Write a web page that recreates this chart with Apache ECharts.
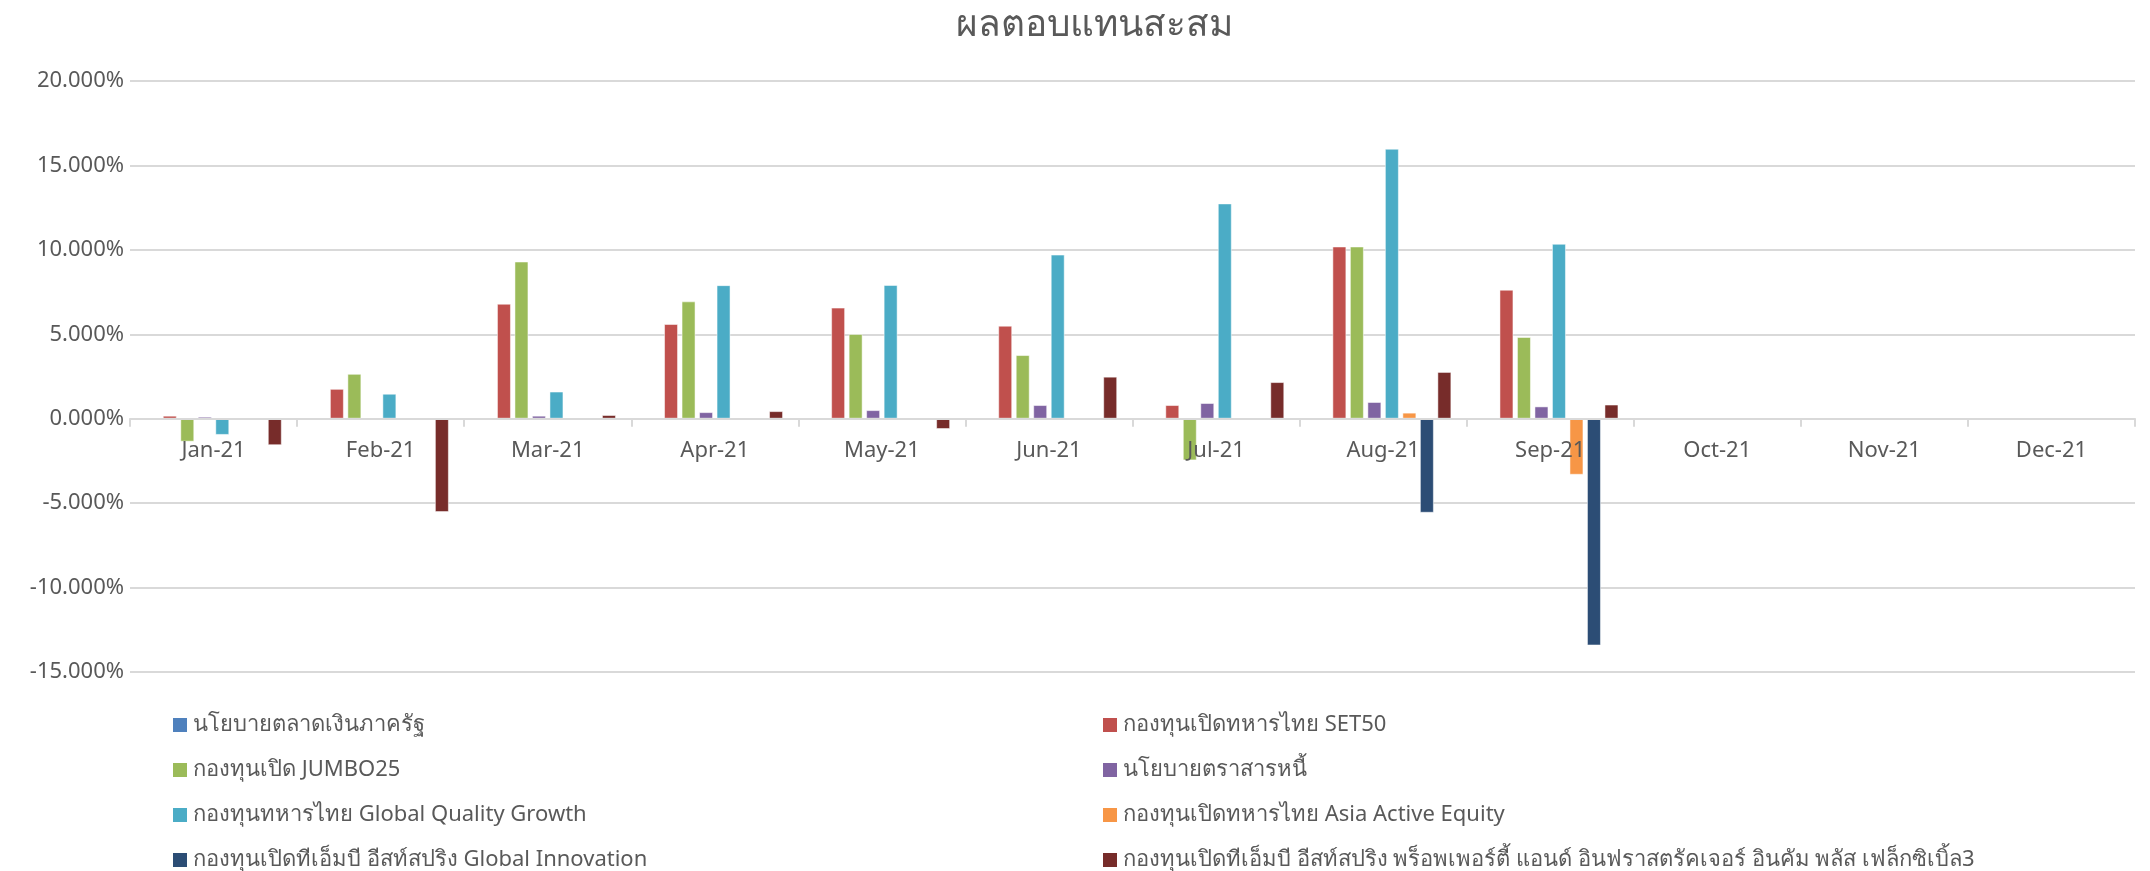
<!DOCTYPE html>
<html>
<head>
<meta charset="utf-8">
<title>ผลตอบแทนสะสม</title>
<script src="https://cdn.jsdelivr.net/npm/echarts@6/dist/echarts.min.js"></script>
<style>
  html, body { margin: 0; padding: 0; background: #fff; }
  #chart { width: 2150px; height: 871px; }
</style>
</head>
<body>
<div id="chart"></div>
<script>
// months on the x axis
const months = ['Jan-21', 'Feb-21', 'Mar-21', 'Apr-21', 'May-21', 'Jun-21',
                'Jul-21', 'Aug-21', 'Sep-21', 'Oct-21', 'Nov-21', 'Dec-21'];

// fund names, same order as the bars in each group
const fundNames = [
    'นโยบายตลาดเงินภาครัฐ',
    'กองทุนเปิดทหารไทย SET50',
    'กองทุนเปิด JUMBO25',
    'นโยบายตราสารหนี้',
    'กองทุนทหารไทย Global Quality Growth',
    'กองทุนเปิดทหารไทย Asia Active Equity',
    'กองทุนเปิดทีเอ็มบี อีสท์สปริง Global Innovation',
    'กองทุนเปิดทีเอ็มบี อีสท์สปริง พร็อพเพอร์ตี้ แอนด์ อินฟราสตรัคเจอร์ อินคัม พลัส เฟล็กซิเบิ้ล3'
];

// cumulative return in percent
const moneyMarket = [0.01, 0.01, 0.01, 0.01, 0.01, 0.01, 0.02, 0.02, 0.02, null, null, null];
const set50       = [0.18, 1.77, 6.81, 5.61, 6.58, 5.51, 0.81, 10.20, 7.64, null, null, null];
const jumbo25     = [-1.36, 2.66, 9.31, 6.95, 5.02, 3.77, -2.47, 10.20, 4.84, null, null, null];
const bondPolicy  = [0.12, -0.06, 0.18, 0.39, 0.51, 0.81, 0.93, 0.99, 0.73, null, null, null];
const globalQG    = [-0.96, 1.48, 1.61, 7.91, 7.92, 9.72, 12.75, 15.99, 10.36, null, null, null];
const asiaActive  = [null, null, null, null, null, null, null, 0.36, -3.32, null, null, null];
const globalInno  = [null, null, null, null, null, null, null, -5.57, -13.43, null, null, null];
const propInfra   = [-1.57, -5.53, 0.22, 0.45, -0.61, 2.49, 2.17, 2.77, 0.84, null, null, null];

const seriesValues = [moneyMarket, set50, jumbo25, bondPolicy, globalQG, asiaActive, globalInno, propInfra];

// y axis ticks
const yMin = -15;
const yMax = 20;
const yStep = 5;

const colors = ['#4F81BD', '#C0504D', '#9BBB59', '#8064A2', '#4BACC6', '#F79646', '#2C4D75', '#772C2A'];

const font = "'Noto Sans', 'Open Sans', 'Liberation Sans', sans-serif";
const textGray = '#595959';

const chart = echarts.init(document.getElementById('chart'));

// legend is two columns, filled row by row like the Excel one
const legendCols = [173, 1103];
const legendRows = [714, 759, 804, 849];
const legends = fundNames.map((name, i) => ({
    data: [{ name: name, icon: 'rect', itemStyle: { color: colors[i], borderWidth: 0 } }],
    left: legendCols[i % 2],
    top: legendRows[Math.floor(i / 2)],
    padding: 0,
    itemWidth: 14,
    itemHeight: 14,
    itemGap: 0,
    textStyle: { fontFamily: font, fontSize: 22, color: textGray, padding: [0, 0, 0, 1] }
}));

const option = {
    animation: false,
    color: colors,
    title: {
        text: 'ผลตอบแทนสะสม',
        left: 1089,
        textAlign: 'center',
        top: 2,
        textStyle: { fontFamily: font, fontSize: 37, fontWeight: 'normal', color: textGray }
    },
    legend: legends,
    grid: {
        left: 130,
        right: 15,
        top: 81,
        bottom: 199
    },
    xAxis: {
        type: 'category',
        data: months,
        axisLine: { onZero: true, lineStyle: { color: '#d9d9d9', width: 2 } },
        axisTick: { show: true, length: 8, lineStyle: { color: '#d9d9d9', width: 2 } },
        // labels sit just under the zero line, not at the bottom of the grid
        axisLabel: { fontFamily: font, fontSize: 22, color: textGray, margin: -232 },
        z: 5
    },
    yAxis: {
        type: 'value',
        min: yMin,
        max: yMax,
        interval: yStep,
        axisLine: { show: false },
        axisTick: { show: false },
        splitLine: { lineStyle: { color: '#d9d9d9', width: 2 } },
        axisLabel: {
            fontFamily: font,
            fontSize: 22,
            color: textGray,
            margin: 6,
            formatter: v => v.toFixed(3) + '%'
        }
    },
    series: fundNames.map((name, i) => ({
        name: name,
        type: 'bar',
        data: seriesValues[i],
        barWidth: 14,
        barGap: '25%',
        itemStyle: { borderColor: 'rgba(255,255,255,0.5)', borderWidth: 1 }
    }))
};

chart.setOption(option);
</script>
</body>
</html>
